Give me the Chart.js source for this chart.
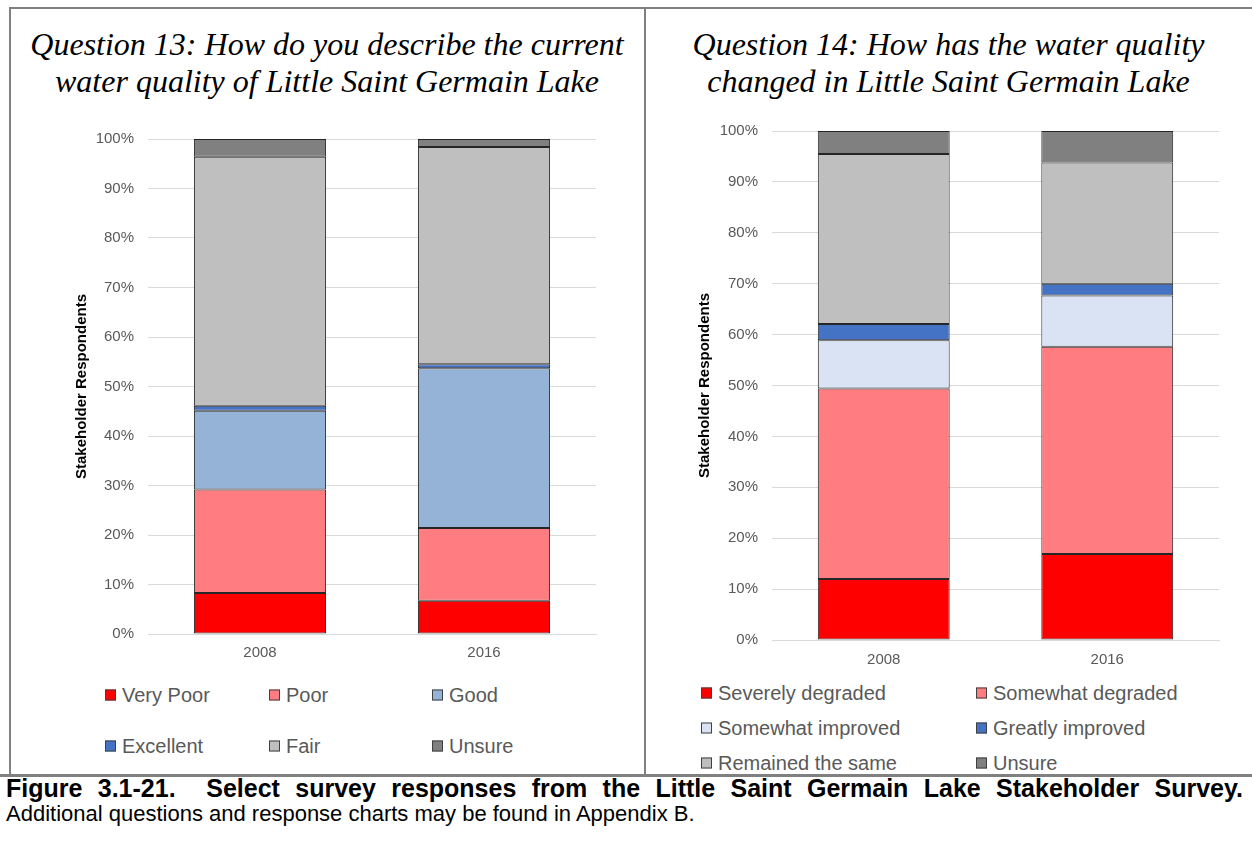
<!DOCTYPE html>
<html>
<head>
<meta charset="utf-8">
<script src="https://cdn.jsdelivr.net/npm/chart.js@4.4.1/dist/chart.umd.min.js"></script>
<style>
  body { margin: 0; background: #fff; }
  #page { position: relative; width: 1252px; height: 853px; overflow: hidden; font-family: "Liberation Sans", Arial, sans-serif; }
  .rule { position: absolute; background: #808080; }
  .title { position: absolute; top: 26px; font-family: "Liberation Serif", "Times New Roman", serif; font-style: italic; font-size: 32px; line-height: 37px; text-align: center; color: #000; }
  canvas { position: absolute; }
  .legend { position: absolute; left: 0; top: 0; font-size: 20px; color: #595959; }
  .legend .item { position: absolute; white-space: nowrap; display: flex; align-items: center; transform: translateY(-50%); }
  .legend .sw { width: 9px; height: 9px; border: 1px solid #404040; margin-right: 6px; }
  .caption { position: absolute; left: 6px; width: 1237px; color: #000; white-space: nowrap; }
  .caption.first { top: 775px; font-size: 25px; line-height: 27px; font-weight: bold; white-space: normal; text-align: justify; text-align-last: justify; }
  .caption.second { top: 801px; font-size: 22px; line-height: 25px; }
</style>
</head>
<body>
<div id="page">
  <div class="rule" style="left:9px; top:7px; width:1243px; height:2px;"></div>
  <div class="rule" style="left:9px; top:7px; width:2px; height:769px;"></div>
  <div class="rule" style="left:644px; top:7px; width:2px; height:769px;"></div>
  <div class="rule" style="left:0px; top:774px; width:1252px; height:3px;"></div>

  <div class="title" style="left:9px; width:636px;">Question 13: How do you describe the current<br>water quality of Little Saint Germain Lake</div>
  <div class="title" style="left:645px; width:607px;">Question 14: How has the water quality<br>changed in Little Saint Germain Lake</div>

  <canvas id="q13" width="560" height="559" style="left:60px; top:116px;"></canvas>
  <canvas id="q14" width="560" height="567" style="left:680px; top:108px;"></canvas>

  <div class="legend" id="leg13"></div>
  <div class="legend" id="leg14"></div>

  <div class="caption first">Figure 3.1-21.&nbsp; Select survey responses from the Little Saint Germain Lake Stakeholder Survey.</div>
  <div class="caption second">Additional questions and response charts may be found in Appendix B.</div>
</div>

<script>
// survey years
const years = ['2008', '2016'];

// Question 13 - share of respondents (%)
const q13Names = ['Very Poor', 'Poor', 'Good', 'Excellent', 'Fair', 'Unsure'];
const q13VeryPoor = [8.3, 6.7];
const q13Poor = [20.9, 14.7];
const q13Good = [15.9, 32.3];
const q13Excellent = [1.0, 0.8];
const q13Fair = [50.3, 43.9];
const q13Unsure = [3.6, 1.6];

// Question 14 - share of respondents (%)
const q14Names = ['Severely degraded', 'Somewhat degraded', 'Somewhat improved', 'Greatly improved', 'Remained the same', 'Unsure'];
const q14Severely = [12.0, 16.9];
const q14SomewhatDeg = [37.4, 40.7];
const q14SomewhatImp = [9.5, 10.1];
const q14Greatly = [3.2, 2.3];
const q14Same = [33.4, 23.8];
const q14Unsure = [4.5, 6.2];

const yTicks = [0, 10, 20, 30, 40, 50, 60, 70, 80, 90, 100];

const q13Colors = ['#FF0000', '#FF7C80', '#95B3D7', '#4472C4', '#BFBFBF', '#808080'];
const q14Colors = ['#FF0000', '#FF7C80', '#DAE3F3', '#4472C4', '#BFBFBF', '#808080'];

Chart.defaults.font.family = '"Liberation Sans", Arial, sans-serif';

function buildChart(id, names, series, colors, box) {
  return new Chart(document.getElementById(id), {
    type: 'bar',
    data: {
      labels: years,
      datasets: names.map((name, i) => ({
        label: name,
        data: series[i],
        backgroundColor: colors[i],
        borderColor: '#262626',
        borderWidth: 1,
        borderSkipped: false,
        barPercentage: 0.59,
        categoryPercentage: 1
      }))
    },
    options: {
      responsive: false,
      animation: false,
      layout: { padding: { left: 0, right: box.padRight, top: box.padTop, bottom: 0 } },
      plugins: { legend: { display: false }, tooltip: { enabled: false } },
      scales: {
        x: {
          stacked: true,
          grid: { display: false, drawTicks: false },
          border: { color: '#D9D9D9', width: 1 },
          ticks: { color: '#595959', font: { size: 15 }, padding: box.xPad },
          afterFit: s => { s.height = box.xHeight; }
        },
        y: {
          stacked: true,
          min: 0,
          max: 100,
          afterBuildTicks: s => { s.ticks = yTicks.map(v => ({ value: v })); },
          ticks: { color: '#595959', font: { size: 15 }, padding: 14, callback: v => v + '%' },
          grid: { color: '#D9D9D9', drawTicks: false },
          border: { display: false },
          title: {
            display: true,
            text: 'Stakeholder Respondents',
            color: '#000',
            font: { size: 15, weight: 'bold' },
            padding: { top: box.titlePad, bottom: 0 }
          },
          afterFit: s => { s.width = box.yWidth; }
        }
      }
    }
  });
}

function buildLegend(elId, chart, cols, rows) {
  const el = document.getElementById(elId);
  chart.data.datasets.forEach((ds, i) => {
    const item = document.createElement('div');
    item.className = 'item';
    item.style.left = cols[i % cols.length] + 'px';
    item.style.top = rows[Math.floor(i / cols.length)] + 'px';
    const sw = document.createElement('span');
    sw.className = 'sw';
    sw.style.background = ds.backgroundColor;
    item.appendChild(sw);
    item.appendChild(document.createTextNode(ds.label));
    el.appendChild(item);
  });
}

const chart13 = buildChart('q13', q13Names,
  [q13VeryPoor, q13Poor, q13Good, q13Excellent, q13Fair, q13Unsure], q13Colors,
  { padRight: 24, padTop: 5, xHeight: 41, xPad: 10, yWidth: 88, titlePad: 13 });

const chart14 = buildChart('q14', q14Names,
  [q14Severely, q14SomewhatDeg, q14SomewhatImp, q14Greatly, q14Same, q14Unsure], q14Colors,
  { padRight: 21, padTop: 7, xHeight: 35, xPad: 11, yWidth: 92, titlePad: 16 });

buildLegend('leg13', chart13, [105, 269, 432], [695, 746]);
buildLegend('leg14', chart14, [701, 976], [693, 728, 763]);
</script>
</body>
</html>
